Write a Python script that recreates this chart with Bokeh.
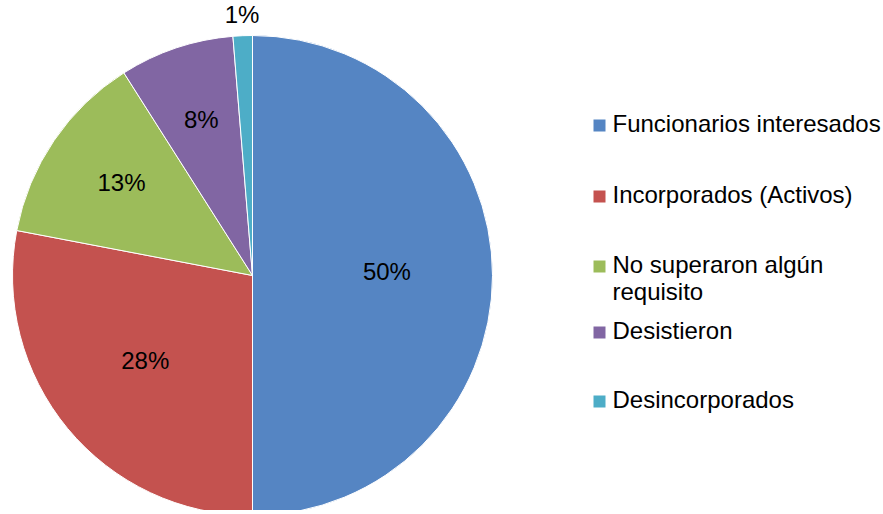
import math
import pandas as pd
from bokeh.plotting import figure
from bokeh.models import ColumnDataSource
from bokeh.core.properties import value
from bokeh.embed import file_html
from bokeh.resources import INLINE

# ---- data ----
categories = ["Funcionarios interesados", "Incorporados (Activos)",
              "No superaron algún requisito", "Desistieron", "Desincorporados"]
legend_lines = [["Funcionarios interesados"], ["Incorporados (Activos)"],
                ["No superaron algún", "requisito"], ["Desistieron"], ["Desincorporados"]]
shares = [50.0, 28.0, 13.0, 7.7, 1.3]
pct_labels = ["50%", "28%", "13%", "8%", "1%"]
colors = ["#5585C3", "#C4524F", "#9CBC5A", "#8166A3", "#4DADC7"]

# ---- layout ----
W, H = 883, 510
cx, cy, R = 252, H - 275, 240
label_frac = [0.56, 0.58, 0.66, 0.67, 1.07]
label_dy = 4
FONT = "Liberation Sans"
FS = "24px"

df = pd.DataFrame({"cat": categories, "share": shares, "label": pct_labels, "color": colors})
frac = df["share"] / df["share"].sum()
end_cum = frac.cumsum()
start_cum = end_cum - frac
df["start"] = [math.pi / 2 - 2 * math.pi * s for s in start_cum]
df["end"] = [math.pi / 2 - 2 * math.pi * e for e in end_cum]
mid = [(a + b) / 2 for a, b in zip(df["start"], df["end"])]
df["lx"] = [cx + f * R * math.cos(m) for f, m in zip(label_frac, mid)]
df["ly"] = [cy + label_dy + f * R * math.sin(m) for f, m in zip(label_frac, mid)]

p = figure(width=W, height=H, x_range=(0, W), y_range=(0, H),
           output_backend="svg", toolbar_location=None, min_border=0)
p.axis.visible = False
p.grid.visible = False
p.outline_line_color = None
p.background_fill_color = "white"
p.border_fill_color = "white"

src = ColumnDataSource(df)
p.wedge(x=cx, y=cy, radius=R, start_angle="start", end_angle="end", direction="clock",
        fill_color="color", line_color="white", line_width=1, source=src)
p.text(x="lx", y="ly", text="label", source=src, text_align="center", text_baseline="middle",
       text_font=value(FONT), text_font_size=FS, text_color="#000000")

# legend (manual)
leg_sq_x = 599
leg_txt_x = 612
row_page_y = [125, 196, 266, 332, 401]
line_gap = 27
sq_x, sq_y, tx, ty, tt = [], [], [], [], []
for i, lines in enumerate(legend_lines):
    yy = H - row_page_y[i]
    sq_x.append(leg_sq_x)
    sq_y.append(yy)
    for j, ln in enumerate(lines):
        tx.append(leg_txt_x)
        ty.append(yy + 2 - j * line_gap)
        tt.append(ln)
p.rect(x=sq_x, y=sq_y, width=12, height=12, fill_color=colors, line_color=None)
p.text(x=tx, y=ty, text=tt, text_align="left", text_baseline="middle",
       text_font=value(FONT), text_font_size=FS, text_color="#000000")

open("out.html", "w").write(file_html(p, INLINE))
